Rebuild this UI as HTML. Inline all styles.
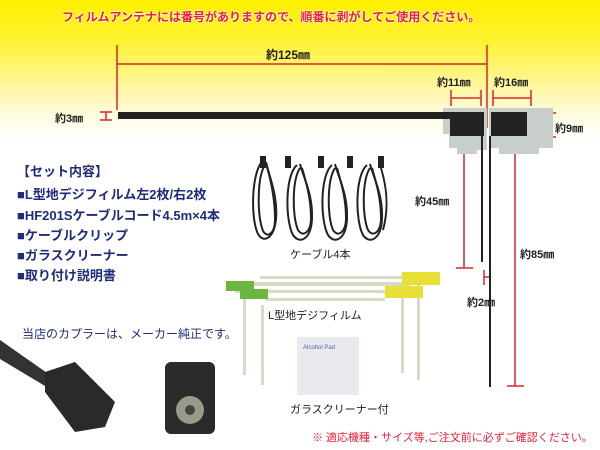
<!DOCTYPE html>
<html><head><meta charset="utf-8"><style>
*{margin:0;padding:0}
body{width:600px;height:450px;overflow:hidden;position:relative;font-family:"Liberation Sans","Noto Sans CJK JP",sans-serif;background:linear-gradient(#fff000 0px,#fff230 40px,#fff690 80px,#fffbe0 115px,#fff 140px,#fff 450px)}
.t{position:absolute;white-space:nowrap;font-weight:bold}
.n{color:#1e2a7a;font-size:13px}
.d{color:#222;font-size:11px}
</style></head><body>
<div class="t" style="left:62px;top:8px;font-size:12px;color:#e8203a;text-shadow:0 0 2px #fff,0 0 2px #fff">フィルムアンテナには番号がありますので、順番に剥がしてご使用ください。</div>
<svg width="600" height="450" style="position:absolute;left:0;top:0">
<g stroke="#d8262e" stroke-width="1.5" fill="none">
<line x1="117" y1="45" x2="117" y2="110"/><line x1="487" y1="45" x2="487" y2="128"/><line x1="117" y1="64" x2="487" y2="64"/>
<line x1="451" y1="90" x2="451" y2="106"/><line x1="481" y1="90" x2="481" y2="106"/><line x1="451" y1="98" x2="481" y2="98"/>
<line x1="493" y1="90" x2="493" y2="106"/><line x1="531" y1="90" x2="531" y2="106"/><line x1="493" y1="98" x2="531" y2="98"/>
<line x1="100" y1="112" x2="112" y2="112"/><line x1="100" y1="120" x2="112" y2="120"/><line x1="106" y1="112" x2="106" y2="120"/>
<line x1="542" y1="113" x2="556" y2="113"/><line x1="542" y1="137" x2="556" y2="137"/><line x1="549" y1="113" x2="549" y2="137"/>
<line x1="464" y1="140" x2="464" y2="268"/><line x1="456" y1="268" x2="473" y2="268"/>
<line x1="515" y1="140" x2="515" y2="386"/><line x1="507" y1="386" x2="524" y2="386"/>
<line x1="484" y1="270" x2="484" y2="285"/><line x1="490" y1="270" x2="490" y2="285"/><line x1="484" y1="277" x2="490" y2="277"/>
</g>
<path d="M443 108h44v42h-10v4h-20v-6h-8v-14h-6z" fill="#c8cfcb"/>
<path d="M489 108h64v40h-14v6h-40v-6h-10z" fill="#c8cfcb"/>
<rect x="118" y="112" width="340" height="7" fill="#222"/>
<rect x="450" y="112" width="34" height="24" fill="#222"/>
<rect x="491" y="112" width="36" height="24" fill="#222"/>
<line x1="482" y1="136" x2="482" y2="262" stroke="#222" stroke-width="2"/>
<line x1="490" y1="136" x2="490" y2="387" stroke="#222" stroke-width="2"/>
<g stroke="#222" stroke-width="2" fill="none">
<path d="M262 162c-10 10-12 55-4 72c6 10 16 4 18-15c2-22-6-40-10-57"/>
<path d="M265 165c-8 12-8 50-2 66c5 8 12 2 12-12c0-20-4-38-8-52"/>
<path d="M297 165c-12 10-12 55-4 70c7 10 18 4 19-16c1-24-8-40-12-55"/>
<path d="M300 168c-8 12-8 48-2 62c5 8 13 2 13-12c0-20-5-36-9-50"/>
<path d="M332 165c-12 10-12 55-4 70c7 10 18 4 19-16c1-24-8-40-12-55"/>
<path d="M335 168c-8 12-8 48-2 62c5 8 13 2 13-12c0-20-5-36-9-50"/>
<path d="M367 165c-12 10-12 55-4 70c7 10 18 4 19-16c1-24-8-40-12-55"/>
<path d="M370 168c-8 12-8 48-2 62c5 8 13 2 13-12c0-20-5-36-9-50"/>
<path d="M381 168c6 20 8 40 2 62"/>
</g>
<g fill="#222"><rect x="260" y="156" width="6" height="12"/><rect x="285" y="156" width="6" height="12"/><rect x="318" y="156" width="6" height="12"/><rect x="347" y="156" width="6" height="12"/><rect x="378" y="156" width="6" height="12"/></g>
<g fill="#d9d9c8"><rect x="230" y="282" width="180" height="4"/><rect x="235" y="290" width="170" height="3"/><rect x="260" y="276" width="150" height="3"/><rect x="265" y="298" width="120" height="3"/>
<rect x="243" y="295" width="3" height="80"/><rect x="261" y="305" width="3" height="80"/><rect x="401" y="283" width="3" height="90"/><rect x="417" y="280" width="3" height="100"/></g>
<rect x="226" y="281" width="28" height="10" fill="#6ab63e"/><rect x="240" y="289" width="28" height="10" fill="#6ab63e"/>
<rect x="402" y="272" width="38" height="13" fill="#e8e034"/><rect x="385" y="286" width="38" height="12" fill="#e8e034"/>
<rect x="297" y="337" width="62" height="58" fill="#e8eaee"/>
<path d="M0 340l50 35v14l-50-30z" fill="#333"/>
<path d="M45 372l30-10 40 40-10 25-30 5-30-40z" fill="#2a2a2a"/>
<rect x="165" y="362" width="50" height="72" rx="6" fill="#2a2a2a"/>
<circle cx="190" cy="410" r="14" fill="#9a9a8a"/><circle cx="190" cy="410" r="5" fill="#444"/>
</svg>
<div class="t" style="left:266px;top:46px;font-size:12px;color:#222">約125㎜</div>
<div class="t d" style="left:437px;top:74px">約11㎜</div>
<div class="t d" style="left:494px;top:74px">約16㎜</div>
<div class="t d" style="left:55px;top:110px">約3㎜</div>
<div class="t d" style="left:555px;top:120px">約9㎜</div>
<div class="t d" style="left:415px;top:193px">約45㎜</div>
<div class="t d" style="left:520px;top:246px">約85㎜</div>
<div class="t d" style="left:467px;top:294px">約2㎜</div>
<div class="t n" style="left:17px;top:161px">【セット内容】</div>
<div class="t n" style="left:17px;top:184px">■L型地デジフィルム左2枚/右2枚</div>
<div class="t n" style="left:17px;top:205px">■HF201Sケーブルコード4.5m×4本</div>
<div class="t n" style="left:17px;top:225px">■ケーブルクリップ</div>
<div class="t n" style="left:17px;top:245px">■ガラスクリーナー</div>
<div class="t n" style="left:17px;top:265px">■取り付け説明書</div>
<div class="t" style="left:22px;top:325px;font-size:12px;color:#1e2a7a;font-weight:normal">当店のカプラーは、メーカー純正です。</div>
<div class="t" style="left:290px;top:246px;font-size:11px;color:#222;font-weight:normal">ケーブル4本</div>
<div class="t" style="left:268px;top:307px;font-size:11px;color:#222;font-weight:normal">L型地デジフィルム</div>
<div class="t" style="left:303px;top:345px;font-size:6px;color:#5566aa;font-weight:normal">Alcohol Pad</div>
<div class="t" style="left:290px;top:401px;font-size:11px;color:#222;font-weight:normal">ガラスクリーナー付</div>
<div class="t" style="left:312px;top:429px;font-size:11px;color:#e8203a;font-weight:normal">※ 適応機種・サイズ等,ご注文前に必ずご確認ください。</div>
</body></html>
